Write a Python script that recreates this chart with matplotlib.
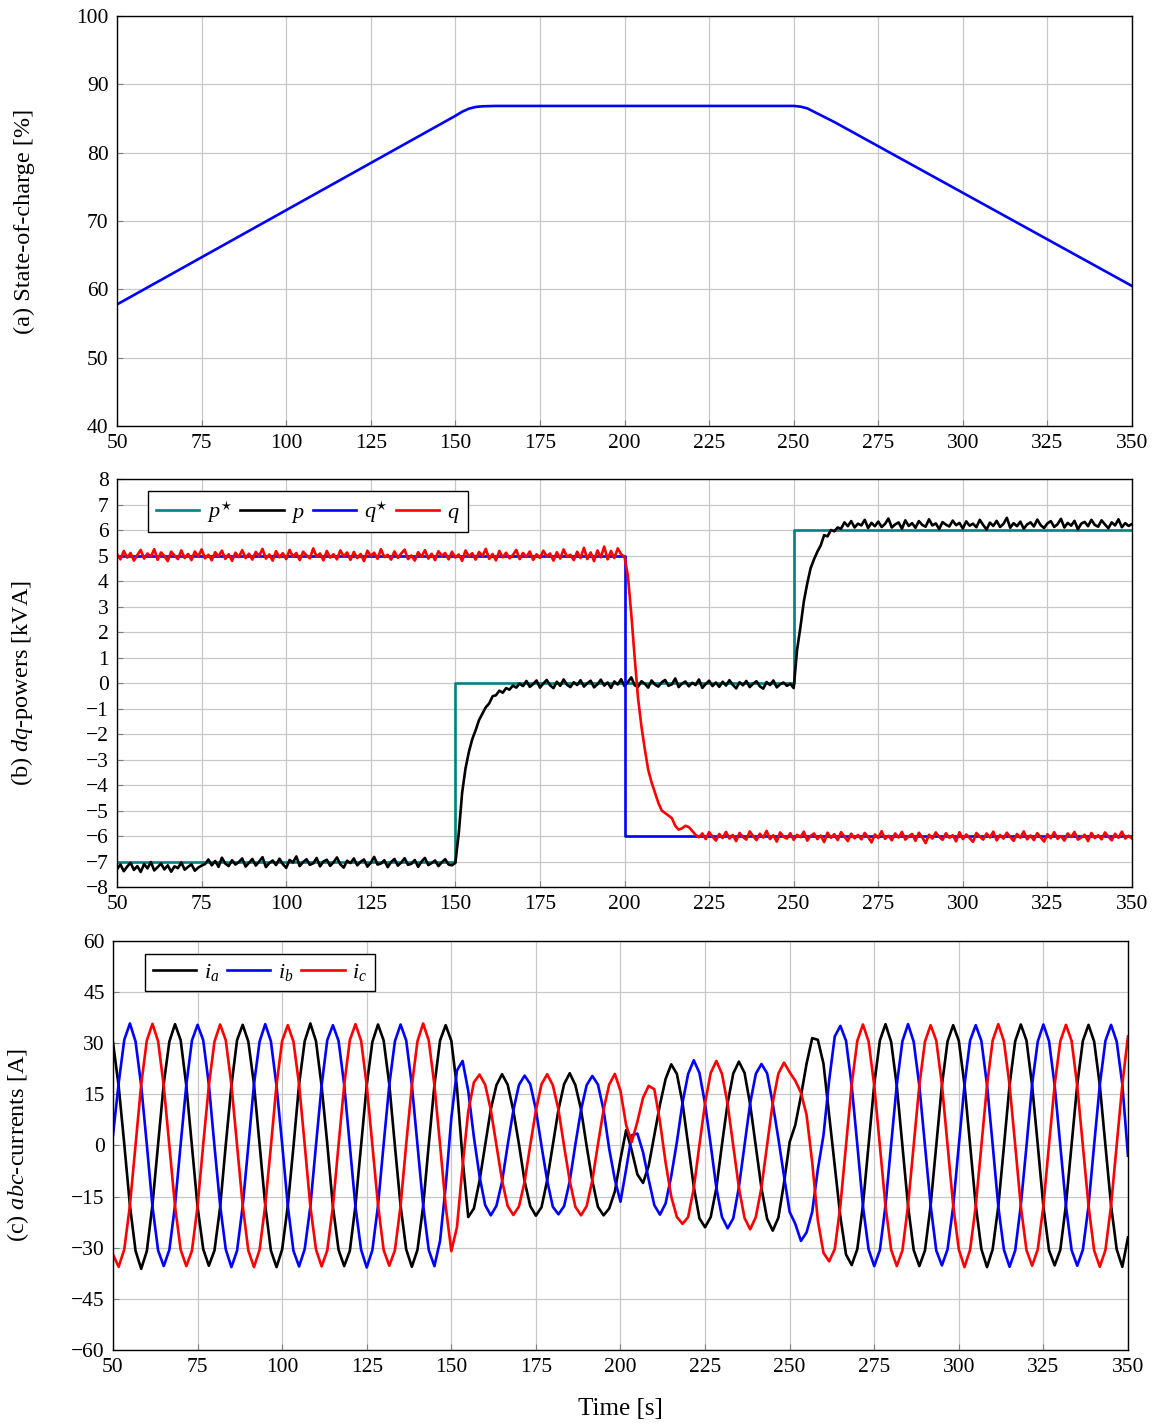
import numpy as np
import matplotlib.pyplot as plt

plt.rcParams['font.family'] = ['Liberation Serif', 'DejaVu Serif']
plt.rcParams['mathtext.fontset'] = 'custom'
plt.rcParams['mathtext.rm'] = 'Liberation Serif'
plt.rcParams['mathtext.it'] = 'Liberation Serif:italic'
plt.rcParams['axes.unicode_minus'] = True

time_ticks = list(range(50, 351, 25))

# (a) state of charge [%]
soc_time = [50, 100, 150, 152, 154, 156, 158, 162, 250, 252, 254, 256, 258, 260, 262, 350]
soc = [57.8, 71.6, 85.4, 86.0, 86.45, 86.7, 86.8, 86.85, 86.85, 86.75, 86.5, 86.0, 85.5, 85.0, 84.5, 60.5]

# (b) dq powers [kVA], references and measured values (1 s samples, 50..350 s)
p_ref_time = [50, 150, 250, 350]
p_ref = [-7, 0, 6, 6]
q_ref_time = [50, 200, 350]
q_ref = [5, -6, -6]
pq_time = np.arange(50, 351)
p_meas = [
    -7.30, -7.12, -7.38, -7.20, -7.05, -7.33, -7.18, -7.41, -7.10, -7.27,
    -7.02, -7.35, -7.22, -7.08, -7.31, -7.15, -7.40, -7.19, -7.26, -7.04,
    -7.32, -7.21, -7.11, -7.36, -7.24, -7.16, -7.10, -6.92, -7.15, -6.98,
    -7.21, -6.85, -7.08, -7.18, -6.95, -7.12, -7.02, -6.88, -7.20, -7.05,
    -6.90, -7.16, -7.00, -6.83, -7.22, -7.06, -6.96, -7.14, -6.89, -7.10,
    -7.25, -6.94, -7.04, -6.80, -7.18, -7.02, -6.91, -7.13, -7.07, -6.86,
    -7.19, -7.00, -6.93, -7.17, -7.03, -6.84, -7.11, -7.24, -6.97, -7.06,
    -6.88, -7.15, -7.01, -6.92, -7.20, -7.05, -6.82, -7.12, -7.08, -6.95,
    -7.22, -7.02, -6.90, -7.16, -7.04, -6.87, -7.13, -7.09, -6.94, -7.21,
    -7.00, -6.86, -7.14, -7.06, -6.96, -7.18, -7.03, -6.91, -7.12, -7.15,
    -7.05, -5.90, -4.30, -3.35, -2.70, -2.20, -1.85, -1.45, -1.20, -0.95,
    -0.80, -0.52, -0.48, -0.30, -0.38, -0.20, -0.26, -0.10, -0.18, -0.02,
    -0.12, 0.08, -0.15, -0.04, 0.10, -0.18, -0.02, 0.12, -0.09, -0.20,
    0.05, -0.11, 0.14, -0.07, -0.16, 0.03, -0.08, 0.11, -0.14, -0.01,
    0.09, -0.17, -0.05, 0.13, -0.10, 0.02, -0.19, 0.06, -0.06, 0.15,
    -0.12, 0.04, 0.22, -0.09, -0.15, 0.07, -0.03, -0.18, 0.10, -0.06,
    -0.14, 0.03, 0.12, -0.11, -0.05, 0.18, -0.16, -0.02, 0.06, -0.13,
    0.01, -0.08, 0.14, -0.19, -0.04, 0.09, -0.12, 0.02, -0.15, 0.05,
    -0.10, 0.11, -0.07, -0.21, 0.03, -0.09, 0.08, -0.16, -0.03, 0.07,
    -0.13, -0.22, 0.04, -0.08, 0.10, -0.17, -0.05, 0.02, -0.11, -0.03,
    -0.20, 1.30, 2.20, 3.20, 3.90, 4.50, 4.85, 5.15, 5.40, 5.80,
    5.75, 6.00, 5.95, 6.10, 6.05, 6.30, 6.15, 6.35, 6.10, 6.25,
    6.18, 6.40, 6.08, 6.28, 6.15, 6.33, 6.12, 6.24, 6.45, 6.10,
    6.22, 6.30, 6.05, 6.38, 6.16, 6.27, 6.09, 6.35, 6.20, 6.13,
    6.42, 6.18, 6.26, 6.04, 6.31, 6.21, 6.14, 6.37, 6.19, 6.28,
    6.06, 6.34, 6.17, 6.25, 6.11, 6.40, 6.20, 6.02, 6.29, 6.16,
    6.36, 6.12, 6.24, 6.48, 6.09, 6.27, 6.15, 6.33, 6.05, 6.22,
    6.30, 6.14, 6.41, 6.19, 6.08, 6.26, 6.35, 6.12, 6.23, 6.44,
    6.10, 6.28, 6.17, 6.36, 6.03, 6.25, 6.32, 6.15, 6.40, 6.20,
    6.13, 6.38, 6.22, 6.07, 6.30, 6.18, 6.42, 6.11, 6.27, 6.16,
    6.24,
]
q_meas = [
    5.05, 4.85, 5.18, 4.92, 5.10, 4.80, 5.02, 5.22, 4.88, 5.08,
    4.95, 5.25, 4.83, 5.12, 4.98, 4.78, 5.15, 5.00, 4.86, 5.20,
    4.90, 5.06, 4.82, 5.16, 4.96, 5.24, 4.89, 5.03, 4.81, 5.13,
    4.97, 5.19, 4.87, 5.05, 4.79, 5.11, 4.94, 5.21, 4.90, 5.07,
    4.84, 5.14, 4.99, 5.26, 4.88, 5.04, 4.80, 5.17, 4.93, 5.09,
    4.86, 5.22, 4.96, 5.10, 4.82, 5.15, 5.01, 4.89, 5.28, 4.95,
    5.08, 4.81, 5.18, 4.92, 5.05, 4.85, 5.20, 4.97, 5.12, 4.83,
    5.14, 4.90, 5.06, 4.78, 5.19, 4.98, 5.11, 4.87, 5.25, 4.94,
    5.03, 4.84, 5.16, 4.91, 5.08, 5.23, 4.86, 5.00, 4.80, 5.13,
    4.95, 5.21, 4.88, 5.07, 4.82, 5.17, 4.99, 5.10, 4.85, 5.15,
    4.92, 5.04, 4.79, 5.20, 4.96, 5.09, 4.84, 5.14, 4.98, 5.26,
    4.87, 5.06, 4.81, 5.18, 4.93, 5.11, 4.89, 5.02, 5.22, 4.86,
    5.10, 4.94, 5.16, 4.83, 5.05, 4.91, 5.19, 4.97, 5.08, 4.80,
    5.13, 4.88, 5.24, 4.95, 5.03, 4.82, 5.15, 4.90, 5.30, 4.86,
    5.12, 4.78, 5.20, 4.93, 5.35, 4.85, 5.18, 4.90, 5.28, 5.05,
    4.95, 4.20, 2.70, 1.00, -0.60, -1.70, -2.60, -3.40, -3.90, -4.30,
    -4.70, -5.00, -5.10, -5.20, -5.30, -5.60, -5.75, -5.70, -5.60, -5.65,
    -5.80, -5.95, -6.05, -5.90, -6.12, -5.85, -6.02, -6.18, -5.92, -6.08,
    -5.84, -6.10, -5.96, -6.20, -5.88, -6.04, -6.14, -5.82, -6.00, -6.16,
    -5.91, -6.06, -5.80, -6.12, -5.97, -6.22, -5.86, -6.03, -6.10, -5.89,
    -6.15, -5.95, -6.05, -5.83, -6.18, -6.00, -5.90, -6.12, -5.98, -6.24,
    -5.87, -6.07, -5.93, -6.16, -5.85, -6.02, -6.20, -5.91, -6.09, -5.96,
    -6.13, -5.88, -6.04, -6.25, -5.94, -6.08, -5.81, -6.11, -5.99, -6.17,
    -5.90, -6.06, -5.84, -6.14, -6.01, -5.92, -6.19, -5.87, -6.05, -6.28,
    -5.95, -6.10, -5.86, -6.03, -6.15, -5.89, -6.07, -5.97, -6.21, -5.85,
    -6.12, -5.94, -6.08, -6.23, -5.88, -6.02, -6.14, -5.90, -6.06, -5.83,
    -6.17, -5.96, -6.10, -5.87, -6.04, -6.19, -5.92, -6.07, -5.82, -6.13,
    -5.98, -6.16, -5.89, -6.05, -6.22, -5.93, -6.09, -5.85, -6.11, -6.00,
    -6.18, -5.90, -6.04, -5.84, -6.14, -6.06, -5.95, -6.20, -5.88, -6.08,
    -5.97, -6.13, -5.86, -6.02, -6.17, -5.91, -6.07, -5.83, -6.10, -5.99,
    -6.10,
]

# (c) abc currents [A], samples every 5/3 s from 50 to 350 s
abc_time = np.linspace(50, 350, 181)
i_a = [
    30.2, 17.5, 0.4, -17.6, -30.9, -36.2, -31.0, -17.4, 0.3, 18.1, 30.5, 35.6,
    30.9, 17.6, -0.3, -18.0, -30.4, -35.3, -30.8, -18.1, 0.2, 17.5, 30.9, 35.4,
    30.5, 18.0, 0.1, -17.5, -30.8, -35.7, -30.5, -17.7, -0.4, 17.9, 30.6, 35.8,
    30.6, 17.4, 0.5, -17.9, -30.6, -35.4, -30.9, -17.6, 0.1, 17.7, 30.4, 35.5,
    30.8, 17.9, -0.2, -17.7, -30.5, -35.6, -30.6, -17.9, 0.3, 17.6, 30.8, 35.3,
    30.7, 17.0, -4.0, -21.0, -18.5, -10.4, 0.2, 10.6, 17.7, 20.9, 17.8, 10.2,
    0.3, -10.5, -17.8, -20.6, -18.1, -10.2, 0.1, 10.5, 18.0, 21.2, 17.7, 10.6,
    -0.2, -10.3, -18.0, -20.5, -18.5, -13.5, -4.0, 4.5, -1.5, -8.5, -11.0, -6.0,
    3.0, 12.0, 19.5, 23.8, 21.0, 12.5, 0.2, -12.1, -21.4, -24.0, -21.0, -12.5,
    0.3, 12.4, 21.1, 24.6, 21.3, 12.0, -0.2, -12.5, -21.5, -25.0, -21.2, -11.0,
    1.0, 6.0, 14.5, 24.0, 31.5, 31.0, 24.0, 9.0, -6.0, -21.0, -32.0, -35.1,
    -30.4, -17.5, 0.3, 17.9, 30.8, 35.6, 30.4, 17.5, -0.2, -17.8, -30.7, -35.4,
    -30.8, -17.6, 0.1, 17.6, 30.5, 35.3, 30.7, 17.9, 0.3, -17.5, -30.4, -35.7,
    -30.5, -17.9, -0.3, 17.7, 30.6, 35.5, 30.8, 17.6, 0.2, -17.9, -30.8, -35.2,
    -30.6, -17.4, 0.2, 17.8, 30.7, 35.4, 30.5, 17.7, -0.1, -17.6, -30.5, -35.6,
    -27.0,
]
i_b = [
    3.0, 18.2, 31.0, 35.8, 30.5, 17.6, 0.2, -17.9, -30.8, -35.4, -30.6, -17.5,
    0.3, 17.7, 30.8, 35.4, 30.9, 17.9, -0.3, -17.6, -30.5, -35.7, -30.9, -17.8,
    -0.2, 17.9, 30.5, 35.6, 30.6, 17.5, 0.4, -17.7, -30.9, -35.5, -30.4, -17.9,
    0.1, 17.6, 30.9, 35.3, 30.7, 17.8, -0.1, -18.0, -30.6, -35.8, -30.7, -17.6,
    0.4, 17.8, 30.6, 35.5, 30.8, 17.7, 0.1, -17.5, -30.7, -35.4, -28.0, -12.0,
    8.0, 22.0, 24.8, 16.0, 2.5, -9.0, -17.5, -20.5, -17.7, -10.6, 0.2, 10.3,
    17.8, 20.5, 18.0, 10.5, -0.2, -10.3, -18.0, -20.2, -17.8, -10.5, 0.3, 10.4,
    17.7, 20.4, 17.9, 10.4, -1.0, -10.0, -16.5, -7.0, 3.0, 3.5, -2.0, -10.0,
    -17.5, -20.3, -17.0, -9.0, 1.0, 12.5, 21.0, 25.0, 21.3, 12.2, 0.2, -12.4,
    -21.0, -24.3, -21.4, -12.2, 0.1, 12.4, 21.0, 23.9, 21.2, 12.3, 2.0, -9.0,
    -19.5, -23.0, -28.0, -25.5, -19.5, -7.0, 3.0, 19.0, 32.0, 35.1, 30.7, 17.6,
    0.2, -17.8, -30.5, -35.4, -30.7, -17.6, 0.3, 17.8, 30.6, 35.6, 30.4, 17.5,
    -0.1, -17.6, -30.8, -35.2, -30.5, -17.9, 0.1, 17.6, 30.8, 35.3, 30.7, 17.8,
    0.3, -17.9, -30.6, -35.6, -30.8, -17.5, -0.2, 17.9, 30.5, 35.5, 30.6, 17.6,
    0.1, -17.7, -30.7, -35.3, -30.6, -17.8, 0.2, 17.7, 30.7, 35.4, 30.5, 17.9,
    -3.0,
]
i_c = [
    -32.0, -35.6, -30.5, -17.6, 0.2, 17.9, 30.8, 35.7, 30.6, 17.5, -0.2, -17.8,
    -30.6, -35.4, -30.9, -17.8, 0.3, 17.6, 30.5, 35.5, 30.9, 17.8, 0.1, -17.6,
    -30.8, -35.7, -30.6, -17.5, -0.3, 17.8, 30.7, 35.3, 30.5, 17.9, 0.2, -17.9,
    -30.5, -35.5, -30.8, -17.9, 0.1, 17.7, 30.9, 35.6, 30.7, 17.6, -0.1, -17.5,
    -30.7, -35.3, -30.7, -17.7, 0.4, 17.5, 30.6, 35.8, 30.8, 17.7, 0.3, -17.8,
    -31.0, -24.0, -6.0, 10.0, 18.5, 20.8, 17.8, 10.5, 0.2, -10.3, -17.8, -20.4,
    -17.9, -10.6, 0.1, 10.3, 18.0, 20.9, 17.7, 10.5, -0.2, -10.4, -18.0, -20.5,
    -17.8, -10.3, 0.3, 10.5, 17.9, 21.0, 16.0, 6.0, 1.0, 7.0, 14.0, 17.5,
    16.5, 7.0, -5.0, -15.0, -21.0, -23.0, -21.0, -12.5, 0.2, 12.4, 21.3, 24.8,
    21.0, 12.2, -0.1, -12.4, -21.3, -24.6, -21.0, -12.3, 0.2, 12.5, 21.1, 24.3,
    21.5, 19.0, 15.5, 9.0, -5.0, -22.0, -31.5, -34.0, -30.4, -17.6, 0.2, 17.8,
    30.7, 35.5, 30.5, 17.6, -0.2, -17.8, -30.6, -35.4, -30.8, -17.5, 0.1, 17.7,
    30.5, 35.3, 30.8, 17.9, 0.3, -17.6, -30.5, -35.7, -30.6, -17.8, -0.2, 17.6,
    30.8, 35.6, 30.6, 17.7, 0.1, -17.9, -30.7, -35.3, -30.5, -17.7, 0.3, 17.8,
    30.6, 35.4, 30.7, 17.5, -0.1, -17.7, -30.8, -35.6, -30.7, -17.6, 0.2, 17.9,
    32.0,
]

teal = '#008080'
lw = 1.9


def style_axis(ax, ylim, yticks, label):
    ax.set_xlim(50, 350)
    ax.set_xticks(time_ticks)
    ax.set_ylim(*ylim)
    ax.set_yticks(yticks)
    ax.grid(True, color='#c8c8c8', lw=0.9)
    ax.set_axisbelow(True)
    ax.tick_params(direction='in', length=4, color='#808080', labelsize=15.5, pad=6)
    ax.set_ylabel(label, fontsize=17.5)
    ax.yaxis.set_label_coords(-0.0805, 0.5)
    for s in ax.spines.values():
        s.set_linewidth(1.0)


def add_legend(ax, anchor, ncol):
    ax.legend(loc='upper left', bbox_to_anchor=anchor, borderaxespad=0, ncol=ncol,
              fancybox=False, edgecolor='black', framealpha=1, fontsize=16,
              handlelength=1.95, handletextpad=0.35, columnspacing=0.35,
              borderpad=0.35)


fig = plt.figure(figsize=(11.53, 14.24), dpi=100)
ax1 = fig.add_axes([0.1015, 0.7008, 0.8803, 0.2879])
ax2 = fig.add_axes([0.1015, 0.3771, 0.8803, 0.2865])
ax3 = fig.add_axes([0.0980, 0.0520, 0.8803, 0.2872])

# (a)
ax1.plot(soc_time, soc, color='blue', lw=lw)
style_axis(ax1, (40, 100), range(40, 101, 10), '(a) State-of-charge [%]')

# (b)
ax2.plot(p_ref_time, p_ref, drawstyle='steps-post', color=teal, lw=lw, label=r'$p^{\star}$')
ax2.plot(pq_time, p_meas, color='black', lw=lw, label=r'$p$')
ax2.plot(q_ref_time, q_ref, drawstyle='steps-post', color='blue', lw=lw, label=r'$q^{\star}$')
ax2.plot(pq_time, q_meas, color='red', lw=lw, label=r'$q$')
style_axis(ax2, (-8, 8), range(-8, 9), r'(b) $dq$-powers [kVA]')
add_legend(ax2, (0.0305, 0.9706), 4)

# (c)
ax3.plot(abc_time, i_a, color='black', lw=lw, label=r'$i_a$')
ax3.plot(abc_time, i_b, color='blue', lw=lw, label=r'$i_b$')
ax3.plot(abc_time, i_c, color='red', lw=lw, label=r'$i_c$')
style_axis(ax3, (-60, 60), range(-60, 61, 15), r'(c) $abc$-currents [A]')
ax3.set_xlabel('Time [s]', fontsize=18, labelpad=15)
add_legend(ax3, (0.0315, 0.968), 3)

fig.savefig('out.png', dpi=100)
